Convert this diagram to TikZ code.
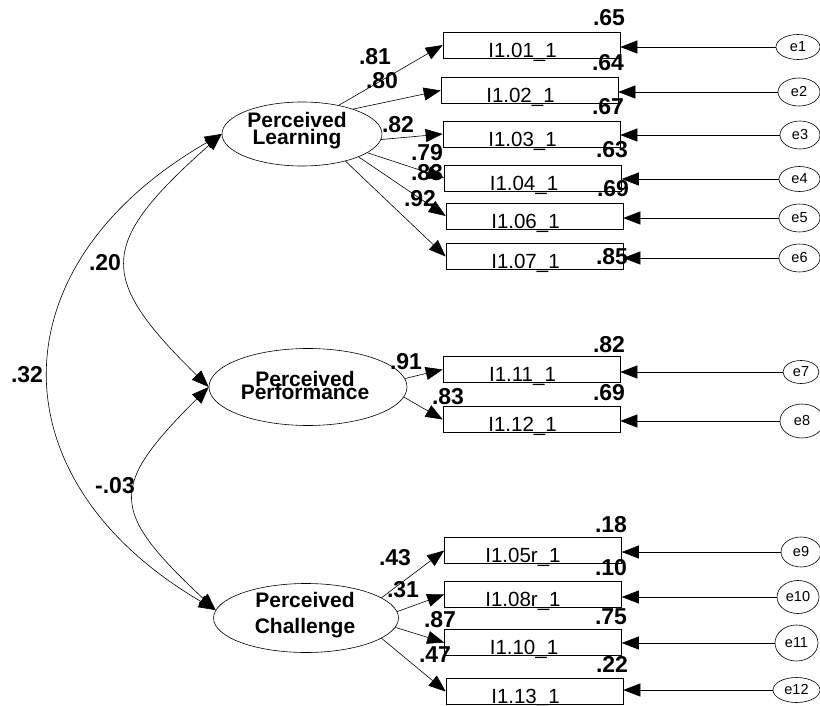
\documentclass[tikz,border=0pt]{standalone}
\usepackage{fontspec}
\setmainfont{Liberation Sans}
\usetikzlibrary{arrows.meta,shapes.geometric,calc}
\newcommand\mytightlines{\lineskiplimit=-50pt\relax}
\begin{document}
\begin{tikzpicture}[x=1pt,y=-1pt,
  latent/.style={draw, ellipse, inner sep=0pt, line width=0.6pt},
  lattext/.style={align=center, inner sep=0pt, font={\fontsize{21}{#1}\selectfont\bfseries\mytightlines}},
  obs/.style={draw, rectangle, minimum width=177pt, minimum height=26pt, inner sep=0pt, line width=0.6pt},
  obstext/.style={font=\fontsize{20.5}{20}\selectfont, inner sep=0pt, anchor=base},
  err/.style={draw, ellipse, inner sep=0pt, line width=0.6pt, font=\fontsize{14.5}{14}\selectfont},
  coef/.style={font=\fontsize{23}{23}\selectfont\bfseries, inner sep=0pt},
  load/.style={-{Triangle[length=17pt,width=13pt]}, line width=0.6pt},
  cov/.style={{Triangle[length=17pt,width=13pt]}-{Triangle[length=17pt,width=13pt]}, line width=0.6pt}
]
\useasboundingbox (0,0) rectangle (820,706);
\fill[white] (0,0) rectangle (820,706);

% latent variables
\node[latent, minimum width=160pt, minimum height=64pt] (PL) at (302,134) {};
\node[lattext=17] (PLt) at (297,131) {Perceived\\Learning};
\node[latent, minimum width=198pt, minimum height=77pt] (PP) at (308,387) {};
\node[lattext=13] (PPt) at (305,385) {Perceived\\Performance};
\node[latent, minimum width=185pt, minimum height=69pt] (PC) at (306,618) {};
\node[lattext=26] (PCt) at (305,615) {Perceived\\Challenge};

% observed variables
\node[obs] (b1) at (531.5,45) {};
\node[obs] (b2) at (529.5,90.5) {};
\node[obs] (b3) at (531.5,134) {};
\node[obs] (b4) at (533,178) {};
\node[obs] (b5) at (534.5,216) {};
\node[obs] (b6) at (534.5,256.5) {};
\node[obs] (b7) at (531.5,369.5) {};
\node[obs] (b8) at (531.5,419.5) {};
\node[obs] (b9) at (533,550.5) {};
\node[obs] (b10) at (533,594.5) {};
\node[obs] (b11) at (533,642.5) {};
\node[obs] (b12) at (534.5,691.5) {};

\node[obstext] (t1) at ($(b1.south)+(-9,-1)$) {I1.01\_1};
\node[obstext] (t2) at ($(b2.south)+(-9,-1)$) {I1.02\_1};
\node[obstext] (t3) at ($(b3.south)+(-9,-1)$) {I1.03\_1};
\node[obstext] (t4) at ($(b4.south)+(-9,-1)$) {I1.04\_1};
\node[obstext] (t5) at ($(b5.south)+(-9,-1)$) {I1.06\_1};
\node[obstext] (t6) at ($(b6.south)+(-9,-1)$) {I1.07\_1};
\node[obstext] (t7) at ($(b7.south)+(-9,-1)$) {I1.11\_1};
\node[obstext] (t8) at ($(b8.south)+(-9,-1)$) {I1.12\_1};
\node[obstext] (t9) at ($(b9.south)+(-10,-1)$) {I1.05r\_1};
\node[obstext] (t10) at ($(b10.south)+(-10,-1)$) {I1.08r\_1};
\node[obstext] (t11) at ($(b11.south)+(-9,-1)$) {I1.10\_1};
\node[obstext] (t12) at ($(b12.south)+(-9,-1)$) {I1.13\_1};

% error terms
\node[err, minimum width=44pt, minimum height=25pt] (e1) at (798,47) {e1};
\node[err, minimum width=42pt, minimum height=28pt] (e2) at (799,92) {e2};
\node[err, minimum width=40pt, minimum height=28pt] (e3) at (800,135) {e3};
\node[err, minimum width=41pt, minimum height=25pt] (e4) at (799.5,179) {e4};
\node[err, minimum width=41pt, minimum height=28pt] (e5) at (799.5,218) {e5};
\node[err, minimum width=41pt, minimum height=28pt] (e6) at (799.5,258) {e6};
\node[err, minimum width=36pt, minimum height=23pt] (e7) at (801,372) {e7};
\node[err, minimum width=44pt, minimum height=34pt] (e8) at (802,421) {e8};
\node[err, minimum width=40pt, minimum height=30pt] (e9) at (801,552) {e9};
\node[err, minimum width=42pt, minimum height=33pt] (e10) at (798,597) {e10};
\node[err, minimum width=43pt, minimum height=36pt] (e11) at (796.5,643) {e11};
\node[err, minimum width=47pt, minimum height=25pt] (e12) at (796.5,690) {e12};

\foreach \i in {1,...,12}{
  \draw[load] (e\i.west) -- (e\i.west -| b\i.east);
}

% loadings
\draw[load] (PL.38) -- (b1.west);
\draw[load] (PL.26) -- (b2.west);
\draw[load] (PL.-4) -- (b3.west);
\draw[load] (PL.-16) -- (b4.west);
\draw[load] (PL.-22) -- (b5.west);
\draw[load] (PL.-32) -- (b6.west);
\draw[load] (PP.5) -- (b7.west);
\draw[load] (PP.-6) -- (b8.west);
\draw[load] (PC.15) -- (b9.west);
\draw[load] (PC.4) -- (b10.west);
\draw[load] (PC.-6) -- (b11.west);
\draw[load] (PC.-15) -- (b12.west);

% covariances
\draw[cov] (PL.west) .. controls ($(PL.west)+(-228,131)$) and ($(PC.175)+(-222,-130)$) .. (PC.175);
\draw[cov] (PL.west) .. controls ($(PL.west)+(-124,110)$) and ($(PP.west)+(-112,-110)$) .. (PP.west);
\draw[cov] (PP.west) .. controls ($(PP.west)+(-100,100)$) and ($(PC.175)+(-107,-100)$) .. (PC.175);

% coefficient labels
\node[coef] (l1) at (375,57) {.81};
\node[coef] (l2) at (382,81) {.80};
\node[coef] (l3) at (398,125) {.82};
\node[coef] (l4) at (427,153) {.79};
\node[coef] (l5) at (427,173) {.83};
\node[coef] (l6) at (420,199) {.92};
\node[coef] (l7) at (406,362) {.91};
\node[coef] (l8) at (448,397) {.83};
\node[coef] (l9) at (395,558) {.43};
\node[coef] (l10) at (403,590) {.31};
\node[coef] (l11) at (440,620) {.87};
\node[coef] (l12) at (435,655) {.47};

\node[coef] (s1) at (609,18) {.65};
\node[coef] (s2) at (608,63) {.64};
\node[coef] (s3) at (608,107) {.67};
\node[coef] (s4) at (612,150) {.63};
\node[coef] (s5) at (613,189) {.69};
\node[coef] (s6) at (612,257) {.85};
\node[coef] (s7) at (609,345) {.82};
\node[coef] (s8) at (609,393) {.69};
\node[coef] (s9) at (611,525) {.18};
\node[coef] (s10) at (611,568) {.10};
\node[coef] (s11) at (611,617) {.75};
\node[coef] (s12) at (612,664) {.22};

\node[coef] (r1) at (105,263) {.20};
\node[coef] (r2) at (27,375) {.32};
\node[coef] (r3) at (115,486) {-.03};
\end{tikzpicture}
\end{document}
